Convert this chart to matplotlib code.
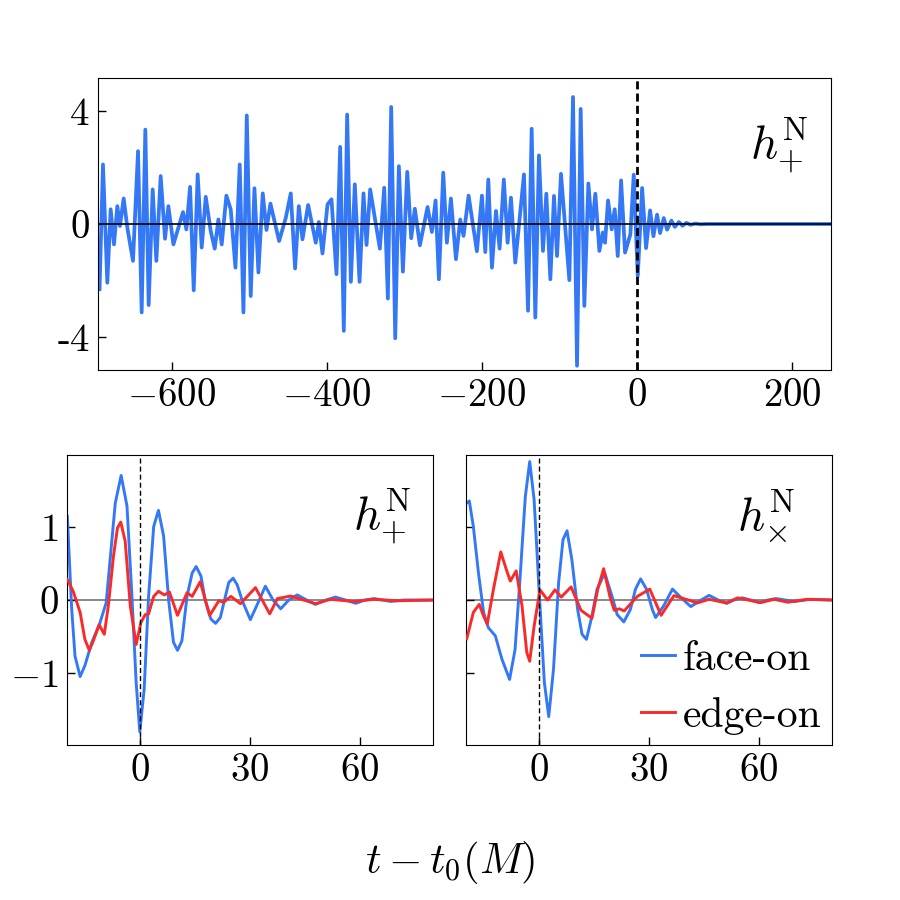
import matplotlib
matplotlib.use("Agg")
import matplotlib.pyplot as plt

plt.rcParams['font.family'] = 'serif'
plt.rcParams['font.serif'] = ['cmr10']
plt.rcParams['mathtext.fontset'] = 'cm'
plt.rcParams['axes.formatter.use_mathtext'] = True
plt.rcParams['axes.unicode_minus'] = True

# top panel: long h_+ waveform (face-on)
t_top = [-693, -688.6, -683.0, -678.7, -674.4, -670.1, -666.7, -661.9, -657.2, -649.9,
         -643.4, -638.7, -634.0, -629.7, -624.5, -619.8, -614.2, -608.6, -604.3, -597.8,
         -585.4, -581.1, -576.3, -571.6, -566.5, -561.3, -556.1, -549.7, -544.5, -539.8,
         -535.5, -529.5, -523.9, -517.8, -512.3, -507.5, -503.2, -498.1, -493.3, -488.2,
         -482.6, -477.8, -472.7, -461.5, -452.9, -446.5, -440.9, -436.1, -431.4, -424.1,
         -414.2, -410.3, -405.6, -399.1, -394.0, -387.5, -382.8, -378.1, -373.8, -369.0,
         -363.9, -357.8, -352.7, -348.8, -344.1, -331.6, -326.0, -321.3, -317.0, -311.8,
         -307.1, -301.9, -296.3, -291.2, -286.5, -280.0, -270.1, -264.5, -259.8, -255.5,
         -249.9, -245.2, -240.0, -233.5, -228.0, -223.7, -217.2, -206.5, -200.0, -195.7,
         -191.8, -187.1, -181.9, -177.2, -171.8, -166.9, -162.6, -157.0, -145.8, -140.6,
         -135.9, -131.2, -126.5, -121.3, -117.0, -111.8, -107.1, -103.2, -98.1, -87.3,
         -82.6, -77.4, -72.7, -68.0, -62.8, -58.1, -53.8, -48.6, -44.3, -41.3,
         -37.4, -32.7, -28.8, -24.9, -20.6, -15.5, -8.6, -4.3, 0.9, 6.5,
         11.6, 16.8, 21.1, 25.8, 29.7, 34.4, 38.7, 44.3, 48.7, 54.0,
         58.5, 63.7, 69.0, 75.0, 82.0, 90.0, 250.0]
h_top = [-2.3, 2.1, -2.07, 0.52, -0.72, 0.63, -0.07, 0.9, -0.13, -1.3,
         2.57, -3.12, 3.33, -2.86, 1.22, -1.3, 1.69, -0.52, 0.63, -0.72,
         0.42, -0.19, 1.31, -2.34, 1.75, -0.83, 0.96, -0.25, -0.87, 0.16,
         -0.72, 1.0, 0.52, -1.54, 2.1, -3.12, 3.83, -2.54, 1.26, -1.71,
         1.08, -0.21, 0.72, -0.6, 0.22, 1.08, -1.57, 0.63, -0.54, 0.67,
         -0.66, 0.07, -1.04, 0.69, 0.87, -1.77, 2.72, -3.77, 3.86, -2.04,
         1.4, -2.04, 1.08, -0.74, 1.22, -0.87, 1.28, -2.63, 4.13, -4.03,
         2.04, -1.68, 1.84, -0.5, 0.54, -0.75, 0.6, -0.28, 0.83, -1.95,
         1.81, -0.66, 0.9, -1.24, 0.16, -0.42, 1.0, -0.96, 1.0, -0.99,
         1.57, -1.54, 0.46, -0.87, 1.57, -0.66, 0.93, -1.36, 1.75, -3.06,
         3.36, -3.3, 2.42, -0.95, 1.07, -1.95, 0.99, -1.13, 1.77, -1.98,
         4.48, -5.0, 4.06, -2.89, 1.43, -0.19, 1.07, -0.95, -0.3, -0.66,
         0.83, -0.19, 0.52, -1.13, 1.54, -1.01, -0.36, 1.74, -1.84, 1.27,
         -0.85, 0.48, -0.43, 0.33, -0.32, 0.21, -0.2, 0.12, -0.1, 0.07,
         -0.06, 0.04, -0.03, 0.015, -0.01, 0.0, 0.0]

# bottom-left: h_+ near merger
t_pf = [-19.9, -18.7, -17.8, -16.4, -15.1, -13.2, -11.1, -9.3, -8.2, -6.8,
        -5.2, -3.6, -2.3, -1.1, -0.1, 1.1, 2.3, 3.7, 5.0, 6.4,
        7.8, 9.1, 10.2, 11.4, 12.8, 14.2, 15.3, 16.6, 17.8, 19.3,
        20.6, 21.9, 23.0, 24.2, 25.4, 26.5, 27.9, 30.1, 32.0, 34.2,
        36.3, 38.4, 40.6, 42.9, 45.5, 47.9, 50.7, 53.4, 56.1, 58.9,
        61.4, 63.9, 66.2, 68.5, 72.0, 80.0]
h_pf = [1.15, -0.13, -0.77, -1.05, -0.9, -0.58, -0.33, -0.04, 0.56, 1.33,
        1.71, 1.29, 0.1, -1.13, -1.81, -1.22, 0.05, 1.01, 1.23, 0.88,
        -0.01, -0.58, -0.69, -0.56, 0.05, 0.37, 0.46, 0.33, -0.01, -0.26,
        -0.32, -0.24, -0.01, 0.24, 0.30, 0.21, -0.01, -0.27, -0.06, 0.19,
        0.0, -0.12, 0.0, 0.07, 0.0, -0.06, 0.0, 0.04, 0.0, -0.045,
        0.0, 0.02, 0.0, -0.02, 0.0, 0.0]
t_pe = [-19.9, -18.3, -16.4, -15.1, -13.9, -12.8, -11.2, -9.8, -8.7, -7.3,
        -6.2, -5.3, -4.1, -2.7, -1.1, 0.2, 1.4, 2.3, 3.7, 5.0,
        6.6, 8.0, 10.2, 12.8, 14.2, 16.4, 19.0, 21.5, 22.8, 24.8,
        27.4, 31.5, 35.4, 37.5, 41.1, 47.9, 52.0, 58.4, 63.9, 70.3, 80.0]
h_pe = [0.28, 0.12, -0.17, -0.54, -0.69, -0.56, -0.34, -0.47, -0.08, 0.60,
        0.99, 1.07, 0.81, -0.08, -0.61, -0.31, -0.2, -0.19, 0.05, 0.12,
        0.07, 0.11, -0.21, 0.10, 0.05, 0.25, -0.21, -0.01, -0.03, 0.05,
        -0.05, 0.17, -0.19, 0.02, 0.055, -0.05, 0.01, -0.02, 0.01, -0.01, 0.0]

# bottom-right: h_x near merger
t_xf = [-19.8, -19.1, -18.0, -16.6, -15.2, -13.9, -12.0, -10.2, -8.1, -6.6,
        -5.2, -3.8, -2.6, -1.4, 0.0, 1.4, 2.6, 3.9, 5.3, 6.5,
        7.6, 8.9, 10.5, 11.7, 12.9, 14.4, 15.8, 17.9, 19.9, 21.3,
        23.1, 24.9, 26.3, 27.7, 29.3, 30.9, 31.8, 34.0, 36.4, 38.8,
        41.4, 43.9, 46.4, 48.9, 51.2, 53.2, 55.5, 57.8, 60.1, 62.4,
        64.7, 69.7, 74.2, 80.0]
h_xf = [1.33, 1.36, 1.01, 0.37, -0.17, -0.38, -0.49, -0.81, -1.09, -0.68,
        0.33, 1.42, 1.90, 1.38, 0.10, -1.13, -1.60, -0.95, 0.24, 0.83,
        0.95, 0.56, -0.13, -0.47, -0.54, -0.22, 0.15, 0.37, 0.05, -0.2,
        -0.30, -0.13, 0.15, 0.29, 0.15, -0.13, -0.24, -0.08, 0.15, 0.03,
        -0.09, -0.01, 0.064, 0.0, -0.046, 0.0, 0.03, 0.0, -0.036, 0.0,
        0.02, -0.02, 0.01, 0.0]
t_xe = [-19.8, -18.0, -16.4, -15.2, -14.2, -12.5, -10.5, -9.0, -7.9, -6.3,
        -4.7, -3.4, -2.6, -1.4, 0.2, 2.3, 4.3, 6.0, 8.7, 11.4,
        14.4, 16.0, 17.6, 19.3, 20.5, 21.9, 23.2, 26.8, 30.2, 33.3,
        36.8, 41.4, 43.2, 46.4, 51.2, 54.2, 60.5, 64.2, 67.9, 73.2, 80.0]
h_xe = [-0.53, -0.17, -0.06, -0.22, -0.33, 0.15, 0.66, 0.42, 0.26, 0.40,
        -0.08, -0.72, -0.84, -0.36, 0.14, 0.0, 0.14, 0.04, 0.18, -0.14,
        -0.25, 0.15, 0.43, 0.05, -0.14, -0.12, -0.15, 0.05, 0.15, -0.21,
        0.06, -0.01, -0.04, 0.01, -0.04, 0.03, -0.035, 0.01, -0.03, 0.01, 0.0]

blue = '#3478F6'
red = '#F92A2A'

fig = plt.figure(figsize=(9, 9), dpi=100)
ax1 = fig.add_axes([0.1089, 0.5889, 0.8144, 0.3244])
ax2 = fig.add_axes([0.0744, 0.1722, 0.4067, 0.3222])
ax3 = fig.add_axes([0.5178, 0.1722, 0.4067, 0.3222])

# top
ax1.plot(t_top, h_top, color=blue, lw=2.7, zorder=2, solid_joinstyle='round')
ax1.axhline(0, color='black', lw=1.2, zorder=3)
ax1.axvline(0, color='black', lw=2, dashes=(2.9, 1.5), zorder=4)
ax1.set_xlim(-695, 250)
ax1.set_ylim(-5.15, 5.15)
ax1.set_xticks([-600, -400, -200, 0, 200])
ax1.set_yticks([4, 0, -4])
ax1.set_yticklabels(['4', '0', '-4'])
ax1.tick_params(direction='in', length=6, width=1, labelsize=28, pad=6)
ax1.text(0.93, 0.77, r'$h_{+}^{\rm N}$', transform=ax1.transAxes,
         ha='center', va='center', fontsize=34)

# bottom panels
for ax, tf, hf, te, he, lab in [(ax2, t_pf, h_pf, t_pe, h_pe, r'$h_{+}^{\rm N}$'),
                                 (ax3, t_xf, h_xf, t_xe, h_xe, r'$h_{\times}^{\rm N}$')]:
    ax.axhline(0, color='gray', lw=1.3, zorder=1)
    ax.plot(tf, hf, color=blue, lw=2.1, zorder=2, label='face-on', solid_joinstyle='round')
    ax.plot(te, he, color=red, lw=2.1, zorder=3, label='edge-on', solid_joinstyle='round')
    ax.axvline(0, color='black', lw=1, dashes=(3.6, 2.2), zorder=4)
    ax.set_xlim(-20, 80)
    ax.set_ylim(-1.99, 1.99)
    ax.set_xticks([0, 30, 60])
    ax.set_yticks([-1, 0, 1])
    ax.tick_params(direction='in', length=6, width=1, labelsize=28, pad=6)
    ax.text(0.86 if ax is ax2 else 0.82, 0.79, lab, transform=ax.transAxes,
            ha='center', va='center', fontsize=34)

ax3.set_yticklabels([])
leg = ax3.legend(loc='lower right', frameon=False, fontsize=30,
                 handlelength=0.8, handletextpad=0.2, labelspacing=0.45,
                 borderaxespad=0.05, borderpad=0.2)

fig.text(0.5, 0.042, r'$t-t_0(M)$', ha='center', va='center', fontsize=31)

fig.savefig('out.png', dpi=100)
